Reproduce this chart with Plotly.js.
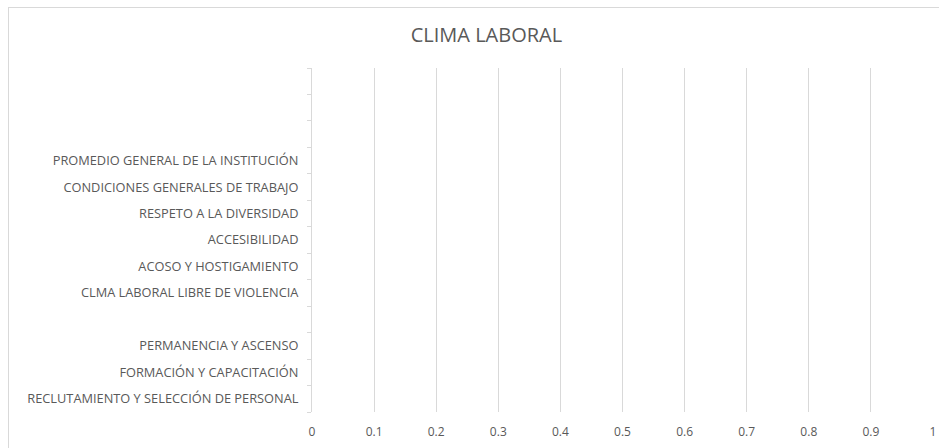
<!DOCTYPE html>
<html>
<head>
<meta charset="utf-8">
<script src="https://cdn.plot.ly/plotly-3.0.1.min.js"></script>
<style>
html,body{margin:0;padding:0;background:#fff;overflow:hidden;}
#chart{width:939px;height:448px;}
#frame{position:absolute;left:8px;top:7px;width:1000px;height:1000px;border:1px solid #d9d9d9;pointer-events:none;}
</style>
</head>
<body>
<div id="chart"></div>
<div id="frame"></div>
<script>
// Categories, bottom to top (blank slots are empty categories in the original)
const categories = [
  "RECLUTAMIENTO Y SELECCIÓN DE PERSONAL",
  "FORMACIÓN Y CAPACITACIÓN",
  "PERMANENCIA Y ASCENSO",
  " ",
  "CLMA LABORAL LIBRE DE VIOLENCIA",
  "ACOSO Y HOSTIGAMIENTO",
  "ACCESIBILIDAD",
  "RESPETO A LA DIVERSIDAD",
  "CONDICIONES GENERALES DE TRABAJO",
  "PROMEDIO GENERAL DE LA INSTITUCIÓN",
  "  ",
  "   ",
  "    "
];
// No bars are visible in the reference: every value is empty / zero
const values = [0, 0, 0, 0, 0, 0, 0, 0, 0, 0, 0, 0, 0];
const xTickVals = [0, 0.1, 0.2, 0.3, 0.4, 0.5, 0.6, 0.7, 0.8, 0.9, 1];
const xTickText = ["0", "0.1", "0.2", "0.3", "0.4", "0.5", "0.6", "0.7", "0.8", "0.9", "1"];

const font = "Open Sans, Liberation Sans, sans-serif";
const trace = {
  type: "bar",
  orientation: "h",
  y: categories,
  x: values,
  marker: {color: "#4472c4", line: {width: 0}},
  hoverinfo: "none"
};
const layout = {
  width: 939, height: 448,
  margin: {l: 312, r: 6, t: 68, b: 36},
  paper_bgcolor: "#fff", plot_bgcolor: "#fff",
  font: {family: font, color: "#595959"},
  showlegend: false,
  title: {text: "CLIMA LABORAL", x: 0.518, xanchor: "center", y: 0.922, yanchor: "middle",
          font: {family: font, size: 20, color: "#595959"}},
  xaxis: {
    range: [0, 1], tickvals: xTickVals, ticktext: xTickText,
    showgrid: true, gridcolor: "#d9d9d9", gridwidth: 1,
    zeroline: false, showline: false, ticks: "",
    tickfont: {family: font, size: 12, color: "#595959"}, ticklabelstandoff: 11
  },
  yaxis: {
    type: "category", categoryorder: "array", categoryarray: categories,
    range: [-0.5, categories.length - 0.5],
    showgrid: false, zeroline: false,
    showline: true, linecolor: "#d9d9d9", linewidth: 1,
    ticks: "outside", tickson: "boundaries", ticklen: 4, tickcolor: "#d9d9d9",
    tickfont: {family: font, size: 12.8, color: "#595959"}, ticklabelstandoff: 10
  }
};
Plotly.newPlot("chart", [trace], layout, {displayModeBar: false, staticPlot: true});
</script>
</body>
</html>
